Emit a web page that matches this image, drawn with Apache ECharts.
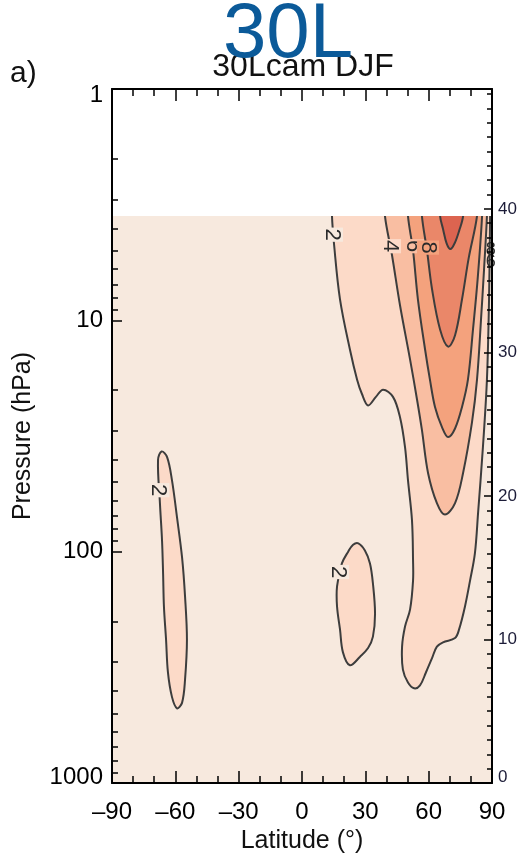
<!DOCTYPE html>
<html lang="en">
<head>
<meta charset="UTF-8">
<title>30Lcam DJF</title>
<script src="https://cdn.jsdelivr.net/npm/echarts@6/dist/echarts.min.js"></script>
<style>
  html, body { margin: 0; padding: 0; background: #fff; }
  #chart { width: 520px; height: 853px; }
</style>
</head>
<body>
<div id="chart"></div>
<script>
// axis ticks
var latTicks = [-90, -60, -30, 0, 30, 60, 90];
var pressureTicks = [1, 10, 100, 1000];
var pressureMinorTicks = [2, 3, 4, 5, 6, 7, 8, 9, 20, 30, 40, 50, 60, 70, 80, 90, 200, 300, 400, 500, 600, 700, 800, 900];
var heightTicks = [0, 10, 20, 30, 40];
var heightMinorTicks = [1, 2, 3, 4, 5, 6, 7, 8, 9, 11, 12, 13, 14, 15, 16, 17, 18, 19, 21, 22, 23, 24, 25, 26, 27, 28, 29,
    31, 32, 33, 34, 35, 36, 37, 38, 39, 41, 42, 43, 44, 45, 46, 47, 48];

var latRange = [-90, 90];
var modelTopKm = 39.5;      // top of the 30L model
var heightAxisMax = 48.35;  // height of 1 hPa (H = 7 km)

// contour lines, [latitude, height km]
var c2North = [[14.2, 39.5], [15.2, 37.5], [18.0, 33.7], [22.7, 30.2], [26.1, 28.1], [28.4, 27.1], [31.3, 26.3], [35.0, 26.9],
    [38.4, 27.4], [43.1, 26.9], [46.4, 25.5], [48.8, 23.4], [50.2, 21.1], [52.1, 18.3], [52.6, 15.5], [52.6, 14.1],
    [51.2, 12.1], [48.8, 10.9], [47.4, 9.5], [47.8, 7.9], [50.2, 7.0], [53.1, 6.6], [55.9, 6.8], [58.7, 7.7], [61.6, 8.7],
    [63.9, 9.5], [66.8, 9.8], [72.5, 10.1], [74.4, 10.7], [77.2, 12.3], [79.6, 14.1], [81.9, 16.0], [83.4, 18.8],
    [85.7, 23.4], [87.6, 28.1], [88.6, 33.7], [89.1, 39.5]];
var c2South = [[-66.5, 23.1], [-68.2, 22.5], [-67.3, 19.5], [-66.3, 16.9], [-65.8, 14.6], [-65.4, 12.3], [-64.4, 10.0],
    [-63.5, 7.7], [-61.6, 6.0], [-59.2, 5.2], [-56.8, 5.6], [-55.4, 7.2], [-54.5, 10.0], [-55.4, 13.0], [-56.8, 15.7],
    [-59.2, 18.5], [-61.6, 21.1], [-63.9, 22.7]];
var c2Tropic = [[26.7, 16.7], [29.8, 16.2], [32.2, 15.3], [33.6, 13.9], [34.6, 11.8], [33.6, 10.2], [31.3, 9.4], [27.5, 8.8],
    [22.7, 8.2], [19.4, 9.1], [18.0, 10.7], [16.6, 12.3], [16.6, 13.7], [18.9, 15.3], [21.8, 16.1], [24.2, 16.6]];
var c4 = [[39.3, 39.5], [42.6, 36.8], [46.4, 33.3], [51.2, 29.5], [54.5, 26.7], [56.8, 24.6], [59.7, 21.6], [63.9, 19.5],
    [67.7, 18.7], [72.5, 19.5], [76.3, 21.6], [80.5, 25.1], [82.9, 28.1], [84.8, 32.3], [86.2, 35.7], [87.6, 39.5]];
var c6 = [[50.2, 39.5], [52.6, 37.1], [54.9, 33.7], [58.3, 30.2], [60.6, 28.1], [63.0, 26.2], [66.3, 24.8], [69.2, 24.1],
    [72.5, 24.7], [75.8, 26.2], [78.6, 28.1], [81.0, 31.6], [83.2, 35.1], [85.3, 39.5]];
var c8 = [[56.8, 39.5], [59.2, 37.1], [61.6, 34.4], [65.4, 31.6], [69.2, 30.4], [72.5, 31.2], [75.8, 33.7], [79.0, 36.6],
    [82.9, 39.5]];
var c10 = [[65.4, 39.5], [66.8, 38.6], [68.5, 37.6], [70.3, 37.2], [72.3, 37.6], [74.5, 38.5], [76.3, 39.5]];

var contourList = [
    { level: 2, closed: false, pts: c2North },
    { level: 2, closed: true, pts: c2South },
    { level: 2, closed: true, pts: c2Tropic },
    { level: 4, closed: false, pts: c4 },
    { level: 6, closed: false, pts: c6 },
    { level: 8, closed: false, pts: c8 },
    { level: 10, closed: false, pts: c10 }
];

var contourLabels = [
    { text: '2', lat: 14.2, km: 38.2, level: 2 },
    { text: '4', lat: 41.7, km: 37.4, level: 4 },
    { text: '6', lat: 52.6, km: 37.4, level: 6 },
    { text: '8', lat: 59.7, km: 37.3, level: 8 },
    { text: '2', lat: -68.0, km: 20.4, level: 2 },
    { text: '2', lat: 17.1, km: 14.7, level: 2 },
    { text: '8', lat: 89.4, km: 37.1, level: 0 },
    { text: '6', lat: 89.4, km: 36.3, level: 0 }
];

// <2, 2-4, 4-6, 6-8, 8-10, >10
var fillColors = ['#f7e9de', '#fcdac8', '#f9bea2', '#f4a27d', '#ea8769', '#dc6450'];

var chart = echarts.init(document.getElementById('chart'));

function dataClip(api) {
    var tl = api.coord([latRange[0], modelTopKm]);
    var br = api.coord([latRange[1], 0]);
    return { type: 'rect', shape: { x: tl[0], y: tl[1], width: br[0] - tl[0], height: br[1] - tl[1] } };
}

function contourPoints(c, api) {
    var pts = c.pts.slice();
    if (!c.closed) {
        // carry open ends above the model top, the clip cuts them off
        pts.unshift([pts[0][0], modelTopKm + 1.5]);
        pts.push([pts[pts.length - 1][0], modelTopKm + 1.5]);
    }
    return pts.map(function (p) { return api.coord(p); });
}

var frame = { show: true, onZero: false, lineStyle: { color: '#000', width: 2 } };
var tickLine = { color: '#000', width: 1.5 };
var font = 'Liberation Sans';

function latLabel(v) {
    return v < 0 ? '\u2013' + (-v) : String(v);
}

var option = {
    animation: false,
    backgroundColor: '#fff',
    textStyle: { fontFamily: font },
    grid: { left: 112, right: 28, top: 89, bottom: 70, outerBoundsMode: 'none', containLabel: false },
    graphic: [
        { type: 'text', x: 10, y: 74, z: 5,
          style: { text: 'a)', fontSize: 30, fontFamily: font, fill: '#111', align: 'left', verticalAlign: 'middle' } },
        { type: 'text', x: 303, y: 67, z: 5,
          style: { text: '30Lcam DJF', fontSize: 32, fontFamily: font, fill: '#111', align: 'center', verticalAlign: 'middle' } },
        { type: 'text', x: 288, y: 35, z: 6,
          style: { text: '30L', fontSize: 78, fontFamily: font, fill: '#0b5a99', align: 'center', verticalAlign: 'middle' } }
    ],
    xAxis: [
        {
            type: 'value', min: latRange[0], max: latRange[1], interval: 30, position: 'bottom', z: 10,
            axisLine: frame,
            axisTick: { inside: true, length: 12, lineStyle: tickLine },
            minorTick: { show: true, splitNumber: 3, length: 7, lineStyle: tickLine },
            splitLine: { show: false },
            axisLabel: { formatter: latLabel, fontSize: 24, color: '#000', margin: 17, customValues: latTicks },
            name: 'Latitude (\u00b0)', nameLocation: 'middle', nameGap: 45,
            nameTextStyle: { fontSize: 25, color: '#111' }
        },
        {
            type: 'value', min: latRange[0], max: latRange[1], interval: 30, position: 'top', z: 10,
            axisLine: frame,
            axisTick: { inside: true, length: 12, lineStyle: tickLine },
            minorTick: { show: true, splitNumber: 3, length: 7, lineStyle: tickLine },
            splitLine: { show: false },
            axisLabel: { show: false }
        }
    ],
    yAxis: [
        {
            // pressure, in log10 space
            type: 'value', min: 0, max: 3, inverse: true, position: 'left', z: 10,
            axisLine: frame,
            axisTick: { inside: true, length: 10, lineStyle: tickLine, customValues: pressureTicks.map(Math.log10) },
            splitLine: { show: false },
            axisLabel: {
                customValues: pressureTicks.map(Math.log10), fontSize: 24, color: '#000', margin: 9,
                formatter: function (v) {
                    var p = Math.round(Math.pow(10, v));
                    if (p === pressureTicks[0]) return '{first|' + p + '}';
                    if (p === pressureTicks[pressureTicks.length - 1]) return '{last|' + p + '}';
                    return String(p);
                },
                rich: {
                    first: { fontSize: 24, color: '#000', padding: [12, 0, 0, 0] },
                    last: { fontSize: 24, color: '#000', padding: [0, 0, 12, 0] }
                }
            },
            name: 'Pressure (hPa)', nameLocation: 'middle', nameGap: 76,
            nameTextStyle: { fontSize: 25, color: '#111' }
        },
        {
            // height km
            type: 'value', min: 0, max: heightAxisMax, position: 'right', z: 10,
            axisLine: frame,
            axisTick: { inside: true, length: 8, lineStyle: tickLine, customValues: heightTicks },
            splitLine: { show: false },
            axisLabel: {
                customValues: heightTicks, fontSize: 17, color: '#1c1c38', margin: 6,
                formatter: function (v) { return v === 0 ? '{last|0}' : String(v); },
                rich: { last: { fontSize: 17, color: '#1c1c38', padding: [0, 0, 12, 0] } }
            }
        },
        {
            type: 'value', min: 0, max: 3, inverse: true, position: 'left', z: 10,
            axisLine: { show: false, onZero: false },
            axisTick: { inside: true, length: 6, lineStyle: tickLine, customValues: pressureMinorTicks.map(Math.log10) },
            splitLine: { show: false },
            axisLabel: { show: false }
        },
        {
            type: 'value', min: 0, max: heightAxisMax, position: 'right', z: 10,
            axisLine: { show: false, onZero: false },
            axisTick: { inside: true, length: 5, lineStyle: tickLine, customValues: heightMinorTicks },
            splitLine: { show: false },
            axisLabel: { show: false }
        }
    ],
    series: [
        {
            // field below 2
            type: 'custom', xAxisIndex: 0, yAxisIndex: 1, silent: true, z: 1,
            data: [[0, 0]],
            renderItem: function (params, api) {
                var clip = dataClip(api);
                return { type: 'rect', shape: clip.shape, style: { fill: fillColors[0] } };
            }
        },
        {
            // filled contour regions
            type: 'custom', xAxisIndex: 0, yAxisIndex: 1, silent: true, z: 2,
            data: contourList.map(function (c, i) { return [i, 0]; }),
            renderItem: function (params, api) {
                var c = contourList[params.dataIndex];
                return {
                    type: 'group', clipPath: dataClip(api),
                    children: [{
                        type: 'polygon', z2: c.level,
                        shape: { points: contourPoints(c, api), smooth: 0.35 },
                        style: { fill: fillColors[c.level / 2], stroke: null }
                    }]
                };
            }
        },
        {
            // contour lines
            type: 'custom', xAxisIndex: 0, yAxisIndex: 1, silent: true, z: 3,
            data: contourList.map(function (c, i) { return [i, 0]; }),
            renderItem: function (params, api) {
                var c = contourList[params.dataIndex];
                return {
                    type: 'group', clipPath: dataClip(api),
                    children: [{
                        type: c.closed ? 'polygon' : 'polyline',
                        shape: { points: contourPoints(c, api), smooth: 0.35 },
                        style: { fill: null, stroke: '#3d3d3d', lineWidth: 2 }
                    }]
                };
            }
        },
        {
            // contour labels
            type: 'custom', xAxisIndex: 0, yAxisIndex: 1, silent: true, z: 4,
            data: contourLabels.map(function (l, i) { return [i, 0]; }),
            renderItem: function (params, api) {
                var l = contourLabels[params.dataIndex];
                var pt = api.coord([l.lat, l.km]);
                var onEdge = l.level === 0;
                return {
                    type: 'text', x: pt[0], y: pt[1],
                    rotation: onEdge ? 0 : -Math.PI / 2,
                    style: {
                        text: l.text, fontSize: onEdge ? 18 : 22, fontFamily: font, fill: '#2b2b2b',
                        align: 'center', verticalAlign: 'middle',
                        backgroundColor: onEdge ? null : fillColors[l.level / 2 - 1],
                        padding: [0, 1]
                    }
                };
            }
        }
    ]
};

chart.setOption(option);
</script>
</body>
</html>
